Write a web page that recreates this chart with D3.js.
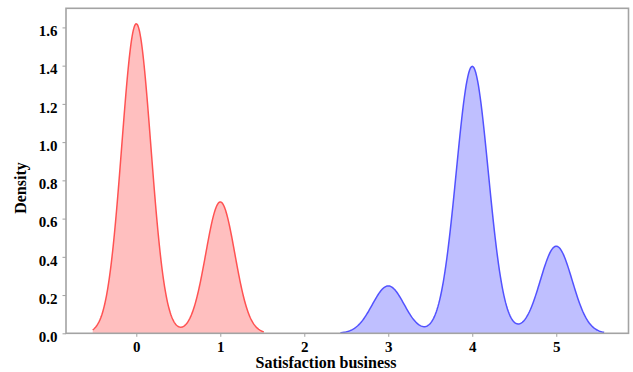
<!DOCTYPE html>
<html>
<head>
<meta charset="utf-8">
<script src="https://cdn.jsdelivr.net/npm/d3@7"></script>
<style>
  html, body { margin: 0; padding: 0; background: #fff; }
  svg { display: block; }
  text { font-family: "Liberation Serif", "Times New Roman", serif; font-weight: bold; fill: #000; }
</style>
</head>
<body>
<svg id="chart" width="633" height="372"></svg>
<script>
// ---- data ----
const redLevels = [0, 1];               // satisfaction values, group 1
const redShares = [0.702, 0.298];       // share of observations at each value
const redBandwidth = 0.173;
const blueLevels = [3, 4, 5];           // satisfaction values, group 2
const blueShares = [0.118, 0.665, 0.217];
const blueBandwidth = 0.19;
const xTicks = [0, 1, 2, 3, 4, 5];
const yTicks = [0.0, 0.2, 0.4, 0.6, 0.8, 1.0, 1.2, 1.4, 1.6];
const xLabel = "Satisfaction business";
const yLabel = "Density";

// ---- layout ----
const svg = d3.select("#chart");
const L = 66, R = 628.5, T = 8.3, B = 333.3;

const x = d3.scaleLinear().domain([-0.837, 5.86]).range([L, R]);
const y = d3.scaleLinear().domain([0, 1.70]).range([B, T]);

// Gaussian KDE built from weighted levels, cut at 3 bandwidths (seaborn default)
function kde(levels, shares, bw) {
  const lo = d3.min(levels) - 3 * bw, hi = d3.max(levels) + 3 * bw;
  const n = 300, pts = [];
  for (let i = 0; i <= n; i++) {
    const v = lo + (hi - lo) * i / n;
    let d = 0;
    levels.forEach((l, j) => {
      const z = (v - l) / bw;
      d += shares[j] * Math.exp(-0.5 * z * z) / (bw * Math.sqrt(2 * Math.PI));
    });
    pts.push([v, d]);
  }
  return pts;
}

const area = d3.area().x(d => x(d[0])).y0(y(0)).y1(d => y(d[1])).curve(d3.curveLinear);
const line = d3.line().x(d => x(d[0])).y(d => y(d[1])).curve(d3.curveLinear);

const series = [
  { pts: kde(redLevels, redShares, redBandwidth), fill: "#ffbfbf", stroke: "#ff5252" },
  { pts: kde(blueLevels, blueShares, blueBandwidth), fill: "#bfbfff", stroke: "#5252ff" }
];

const plot = svg.append("g");
series.forEach(s => {
  plot.append("path").attr("d", area(s.pts)).attr("fill", s.fill).attr("stroke", "none");
  plot.append("path").attr("d", line(s.pts)).attr("fill", "none")
    .attr("stroke", s.stroke).attr("stroke-width", 1.5);
});

// axes
const xAxis = svg.append("g").attr("transform", `translate(0,${B})`)
  .call(d3.axisBottom(x).tickValues(xTicks).tickFormat(d3.format("d")).tickSize(3.5).tickPadding(5));
const yAxis = svg.append("g").attr("transform", `translate(${L},0)`)
  .call(d3.axisLeft(y).tickValues(yTicks).tickFormat(d3.format(".1f")).tickSize(3.5).tickPadding(5));
[xAxis, yAxis].forEach(a => {
  a.select(".domain").remove();
  a.selectAll(".tick line").attr("stroke", "#a0a0a0").attr("stroke-width", 1);
  a.selectAll(".tick text").style("font-size", "15px").style("font-family", "'Liberation Serif', serif")
    .style("font-weight", "bold").attr("fill", "#000");
});
yAxis.selectAll(".tick text").attr("dy", "0.55em");

// frame
svg.append("rect").attr("x", L).attr("y", T).attr("width", R - L).attr("height", B - T)
  .attr("fill", "none").attr("stroke", "#a3a3a3").attr("stroke-width", 1.6);

// labels
svg.append("text").attr("x", 326).attr("y", 368).attr("text-anchor", "middle")
  .style("font-size", "16px").text(xLabel);
svg.append("text").attr("transform", "translate(26,188) rotate(-90)").attr("text-anchor", "middle")
  .style("font-size", "16px").text(yLabel);
</script>
</body>
</html>
